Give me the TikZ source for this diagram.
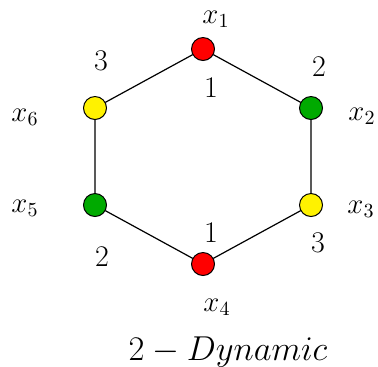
\documentclass[tikz,border=0pt]{standalone}
\usepackage{amsmath}
\definecolor{xanh}{RGB}{0,170,0}
\begin{document}
\begin{tikzpicture}[
			% styles
			dinh/.style={circle, draw=black, line width=0.5pt, minimum size=11.5pt, inner sep=0pt}, % vertex
			canh/.style={line width=0.6pt}, % edge
			ten/.style={font=\fontsize{14.4}{17}\selectfont}, % vertex name
			mau/.style={font=\fontsize{15}{18}\selectfont}, % colour number
			x=0.5pt,y=-0.5pt,line join=round,line cap=round]
			\useasboundingbox (0,0) rectangle (378,366);
			% vertices
			\node[dinh, fill=red]    (x1) at (203,49)  {};
			\node[dinh, fill=xanh]   (x2) at (311,108) {};
			\node[dinh, fill=yellow] (x3) at (311,205) {};
			\node[dinh, fill=red]    (x4) at (203,264) {};
			\node[dinh, fill=xanh]   (x5) at (95,205)  {};
			\node[dinh, fill=yellow] (x6) at (95,108)  {};

			% edges of the cycle
			\draw[canh] (x1) -- (x2) -- (x3) -- (x4) -- (x5) -- (x6) -- (x1);

			% vertex names
			\node[ten] (t1) at (216,19)  {$x_1$};
			\node[ten] (t2) at (362,116) {$x_2$};
			\node[ten] (t3) at (361,209) {$x_3$};
			\node[ten] (t4) at (217,307) {$x_4$};
			\node[ten] (t5) at (25,208)  {$x_5$};
			\node[ten] (t6) at (25,117)  {$x_6$};

			% colours
			\node[mau] (m1) at (211,88)  {1};
			\node[mau] (m2) at (319,67)  {2};
			\node[mau] (m3) at (318,243) {3};
			\node[mau] (m4) at (211,233) {1};
			\node[mau] (m5) at (102,257) {2};
			\node[mau] (m6) at (101,61)  {3};

			\node[font=\fontsize{16}{19}\selectfont] (cap) at (228,352) {$2-Dynamic$};
		\end{tikzpicture}
\end{document}
